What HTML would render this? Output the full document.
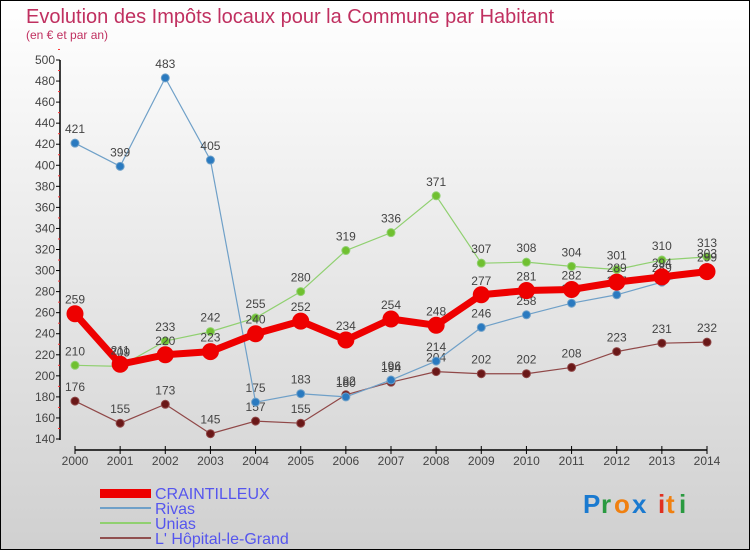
<!DOCTYPE html>
<html><head><meta charset="utf-8"><style>
body{margin:0;width:750px;height:550px;overflow:hidden;font-family:"Liberation Sans",sans-serif}
#wrap{position:absolute;left:0;top:0;width:748px;height:548px;border:1px solid #000;background:linear-gradient(#ffffff,#d0d0d0)}
svg{position:absolute;left:0;top:0}
</style></head><body>
<div id="wrap"></div>
<svg id="c" width="750" height="550">
<text x="26" y="23" font-size="20" fill="#c03060">Evolution des Impôts locaux pour la Commune par Habitant</text>
<text x="26" y="39" font-size="12" fill="#c03060">(en € et par an)</text>
<g id="axes"></g><g id="series"></g>
<g>
<rect x="100" y="489" width="51" height="9" fill="#e00"/>
<text x="155" y="499" font-size="16" fill="#5555ee">CRAINTILLEUX</text>
<rect x="100" y="507" width="51" height="2" fill="#6fa0c8"/>
<text x="155" y="514" font-size="16" fill="#5555ee">Rivas</text>
<rect x="100" y="522" width="51" height="2" fill="#90d070"/>
<text x="155" y="529" font-size="16" fill="#5555ee">Unias</text>
<rect x="100" y="537" width="51" height="2" fill="#905050"/>
<text x="155" y="544" font-size="16" fill="#5555ee">L' Hôpital-le-Grand</text>
</g>
<g font-size="26" font-weight="bold">
<text x="583" y="513" fill="#1a7ad0">P</text><text x="601" y="513" fill="#2a9a40">r</text><text x="614" y="513" fill="#f08010">o</text><text x="632" y="513" fill="#1a7ad0">x</text><text x="658" y="513" fill="#e03020">i</text><text x="666" y="513" fill="#f08010">t</text><text x="679" y="513" fill="#2a9a40">i</text>
</g>
</svg>
<script>
const years=["2000","2001","2002","2003","2004","2005","2006","2007","2008","2009","2010","2011","2012","2013","2014"];
const yTicks=[140,160,180,200,220,240,260,280,300,320,340,360,380,400,420,440,460,480,500];
const craintilleux=[259,211,220,223,240,252,234,254,248,277,281,282,289,294,299];
const rivas=[421,399,483,405,175,183,180,196,214,246,258,269,277,289,303];
const unias=[210,209,233,242,255,280,319,336,371,307,308,304,301,310,313];
const lhopital=[176,155,173,145,157,155,182,194,204,202,202,208,223,231,232];
const NS="http://www.w3.org/2000/svg";
const x=i=>75+i*(707-75)/(years.length-1);
const y=v=>439-(v-140)*(439-60)/(500-140);
function mk(t,a,p){const e=document.createElementNS(NS,t);for(const k in a)e.setAttribute(k,a[k]);p.appendChild(e);return e;}
const ax=document.getElementById('axes');
let l=mk('line',{x1:60,y1:60,x2:60,y2:440,stroke:'#000','stroke-width':1.5},ax);


yTicks.forEach(v=>{
 mk('line',{x1:56,y1:y(v),x2:60,y2:y(v),stroke:'#000'},ax);
 mk('line',{x1:58,y1:y(v+10),x2:60,y2:y(v+10),stroke:'#f33'},ax);
 const t=mk('text',{x:55,y:y(v)+4,'text-anchor':'end','font-size':12,fill:'#444'},ax);t.textContent=v;
 
 
});
l=mk('line',{x1:75,y1:450,x2:707,y2:450,stroke:'#000','stroke-width':1.5},ax);


years.forEach((yr,i)=>{
 mk('line',{x1:x(i),y1:446,x2:x(i),y2:454,stroke:'#000'},ax);
 const t=mk('text',{x:x(i),y:465,'text-anchor':'middle','font-size':12,fill:'#444'},ax);t.textContent=yr;
 
 
});
const sg=document.getElementById('series');
function series(data,name,color,w,r,dot){
 const g=mk('g',{},sg);
 
 
 const p=mk('polyline',{points:data.map((v,i)=>x(i)+','+y(v)).join(' '),fill:'none',stroke:color,'stroke-width':w,'stroke-linejoin':'round'},g);
 
 
 data.forEach((v,i)=>{
  const c=mk('circle',{cx:x(i),cy:y(v),r:r,fill:dot,stroke:color,'stroke-width':1},g);
  
  
  const t=mk('text',{x:x(i),y:y(v)-10,'text-anchor':'middle','font-size':12,fill:'#444'},g);t.textContent=v;
  
  
 });
}
series(lhopital,'lhopital','#904848',1.2,4,'#6a1818');
series(unias,'unias','#90d070',1.2,4,'#70c030');
series(rivas,'rivas','#6fa0c8',1.2,4,'#2a7ac0');
series(craintilleux,'craintilleux','#ee0000',7,8,'#ee0000');
</script>
</body></html>
